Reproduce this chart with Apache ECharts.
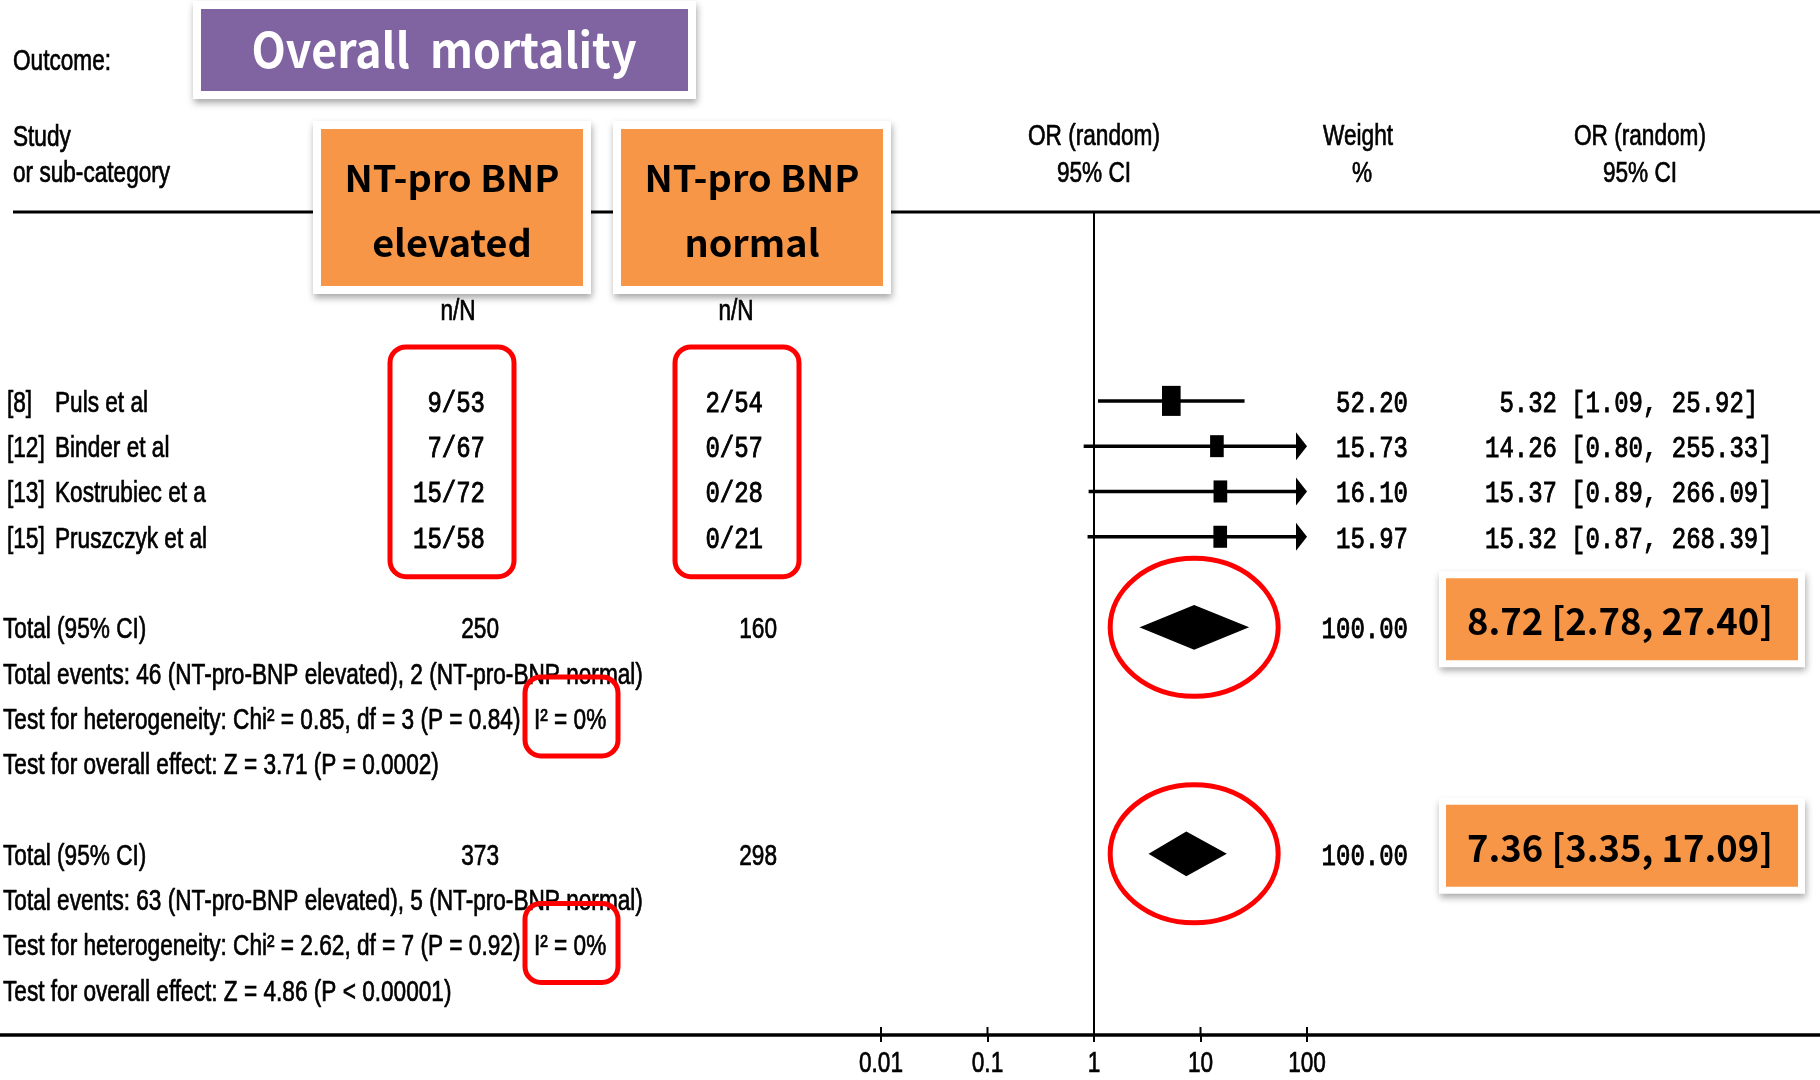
<!DOCTYPE html>
<html><head><meta charset="utf-8">
<script src="https://cdn.jsdelivr.net/npm/echarts@6/dist/echarts.min.js"></script>
<style>html,body{margin:0;padding:0;background:#fff}#chart{width:1820px;height:1080px}</style>
</head><body><div id="chart"></div>
<script>
// ---------------- data ----------------
const studyRefs = ['[8]', '[12]', '[13]', '[15]'];
const studyNames = ['Puls et al', 'Binder et al', 'Kostrubiec et a', 'Pruszczyk et al'];
const elevatedNN = ['9/53', '7/67', '15/72', '15/58'];
const normalNN = ['2/54', '0/57', '0/28', '0/21'];
const studyWeight = [52.20, 15.73, 16.10, 15.97];
const studyOR = [5.32, 14.26, 15.37, 15.32];
const studyLow = [1.09, 0.80, 0.89, 0.87];
const studyHigh = [25.92, 255.33, 266.09, 268.39];
const studyRows = [0, 1, 2, 3];

const totalRows = [5, 10];
const totalLabel = ['Total (95% CI)', 'Total (95% CI)'];
const totalElevatedN = ['250', '373'];
const totalNormalN = ['160', '298'];
const totalWeight = [100.00, 100.00];
const totalOR = [8.72, 7.36];
const totalLow = [2.78, 3.35];
const totalHigh = [27.40, 17.09];
const totalEvents = ['Total events: 46 (NT-pro-BNP elevated), 2 (NT-pro-BNP normal)',
                     'Total events: 63 (NT-pro-BNP elevated), 5 (NT-pro-BNP normal)'];
const heterogeneity = ['Test for heterogeneity: Chi\u00b2 = 0.85, df = 3 (P = 0.84)',
                       'Test for heterogeneity: Chi\u00b2 = 2.62, df = 7 (P = 0.92)'];
const iSquared = ['I\u00b2 = 0%', 'I\u00b2 = 0%'];
const overallEffect = ['Test for overall effect: Z = 3.71 (P = 0.0002)',
                       'Test for overall effect: Z = 4.86 (P < 0.00001)'];
const xTicks = [0.01, 0.1, 1, 10, 100];
const xTickLabels = ['0.01', '0.1', '1', '10', '100'];

const outcomeTitle = 'Overall  mortality';
const groupTitle = ['NT-pro BNP', 'NT-pro BNP'];
const groupSub = ['elevated', 'normal'];

// ---------------- chart ----------------
const X_MIN = 0.01, X_MAX = 100;
const chart = echarts.init(document.getElementById('chart'), null, {renderer: 'canvas'});

function renderStudy(params, api) {
  const orv = api.value(0), lo = api.value(1), hi = api.value(2), row = api.value(3), w = api.value(4);
  const y = api.coord([1, row])[1];
  const xL = api.coord([Math.max(lo, X_MIN), row])[0];
  const xR = api.coord([Math.min(hi, X_MAX), row])[0];
  const xc = api.coord([orv, row])[0];
  const h = 18.5 + 0.221 * w, wd = h * 0.62;
  const clipped = hi > X_MAX;
  const children = [
    {type: 'line', shape: {x1: xL, y1: y, x2: clipped ? xR - 6 : xR, y2: y}, style: {stroke: '#000', lineWidth: 3.5}},
    {type: 'rect', shape: {x: xc - wd / 2, y: y - h / 2, width: wd, height: h}, style: {fill: '#000'}}
  ];
  if (clipped) children.push({type: 'polygon', shape: {points: [[xR - 11, y - 14], [xR, y], [xR - 11, y + 14]]}, style: {fill: '#000'}});
  return {type: 'group', children};
}
function renderDiamond(params, api) {
  const orv = api.value(0), lo = api.value(1), hi = api.value(2), row = api.value(3);
  const y = api.coord([1, row])[1];
  const xL = api.coord([lo, row])[0], xR = api.coord([hi, row])[0], xc = api.coord([orv, row])[0];
  const h = 43;
  return {type: 'polygon', shape: {points: [[xL, y], [xc, y - h / 2], [xR, y], [xc, y + h / 2]]}, style: {fill: '#000', stroke: '#000', lineWidth: 1.5}};
}
function renderRefLine(params, api) {
  const cs = params.coordSys;
  const x = api.coord([api.value(0), 0])[0];
  return {type: 'line', shape: {x1: x, y1: cs.y, x2: x, y2: cs.y + cs.height}, style: {stroke: '#000', lineWidth: 2}};
}

chart.setOption({
  animation: false,
  grid: {left: 881, right: 513, top: 212, bottom: 45},
  xAxis: {type: 'log', logBase: 10, min: X_MIN, max: X_MAX,
    axisLine: {show: false, onZero: false},
    axisTick: {show: true, length: 7, lineStyle: {color: '#000', width: 2}},
    axisLabel: {show: false}, splitLine: {show: false}},
  yAxis: {type: 'value', inverse: true, min: -4.17, max: 14, show: false},
  series: [
    {type: 'custom', name: 'ref', renderItem: renderRefLine, data: [[1, 0]], encode: {x: 0, y: 1}, silent: true},
    {type: 'custom', name: 'studies', renderItem: renderStudy,
      data: studyOR.map((v, i) => [v, studyLow[i], studyHigh[i], studyRows[i], studyWeight[i]]),
      encode: {x: [0, 1, 2], y: 3}, silent: true},
    {type: 'custom', name: 'pooled', renderItem: renderDiamond,
      data: totalOR.map((v, i) => [v, totalLow[i], totalHigh[i], totalRows[i]]),
      encode: {x: [0, 1, 2], y: 3}, silent: true}
  ]
});

// ---------------- text & annotations ----------------
const px = v => chart.convertToPixel({xAxisIndex: 0}, v);
const py = r => chart.convertToPixel({yAxisIndex: 0}, r);
const mctx = document.createElement('canvas').getContext('2d');
const measure = (t, f) => { mctx.font = f; return mctx.measureText(t).width; };

const SANS = '29px "Liberation Sans", Arial, sans-serif', SX = 0.78;
const MONO = '30px "Liberation Mono", "Courier New", monospace', MX = 0.8;
const PPT_FAMILY = '"Noto Sans CJK KR", "Malgun Gothic", sans-serif';
const RED = '#FF0000', ORANGE = '#F79646', PURPLE = '#8064A2';
const DY = 3; // baseline nudge for table text

const els = [];
function txt(text, x, y, font, sx, align, fill, z, heavy) {
  const style = {text: text, x: 0, y: 0, font: font, fill: fill || '#000',
    align: align || 'left', verticalAlign: 'middle', textAlign: align || 'left', textVerticalAlign: 'middle'};
  if (heavy) { style.stroke = fill || '#000'; style.lineWidth = heavy; }
  els.push({type: 'text', x: x, y: y, scaleX: sx, z: z || 20, silent: true, style: style});
}
const tS = (t, x, y, align) => txt(t, x, y + DY, SANS, SX, align, '#000', 20, 0.7);
const tM = (t, x, y, align) => txt(t, x, y + DY, MONO, MX, align, '#000', 20, 0.9);
function box(x1, y1, x2, y2, fill, border) {
  els.push({type: 'rect', z: 10, silent: true, shape: {x: x1 - border, y: y1 - border, width: x2 - x1 + 2 * border, height: y2 - y1 + 2 * border},
    style: {fill: '#fff', shadowBlur: 7, shadowOffsetX: 1, shadowOffsetY: 4, shadowColor: 'rgba(0,0,0,0.35)'}});
  els.push({type: 'rect', z: 11, silent: true, shape: {x: x1, y: y1, width: x2 - x1, height: y2 - y1}, style: {fill: fill}});
}
function redRect(x1, y1, x2, y2) {
  els.push({type: 'rect', z: 30, silent: true, shape: {x: x1, y: y1, width: x2 - x1, height: y2 - y1, r: 16},
    style: {fill: 'none', stroke: RED, lineWidth: 5}});
}
function fitText(text, cx, cy, font, targetW, fill) {
  txt(text, cx, cy, font, targetW / measure(text, font), 'center', fill, 20);
}

// horizontal rules
const yTop = py(-4.17), yBottom = py(14);
els.push({type: 'line', z: 5, silent: true, shape: {x1: 13, y1: yTop, x2: 1820, y2: yTop}, style: {stroke: '#000', lineWidth: 3}});
els.push({type: 'line', z: 5, silent: true, shape: {x1: 0, y1: yBottom, x2: 1820, y2: yBottom}, style: {stroke: '#000', lineWidth: 3.5}});
xTicks.forEach(v => els.push({type: 'line', z: 5, silent: true, shape: {x1: px(v), y1: yBottom - 8, x2: px(v), y2: yBottom}, style: {stroke: '#000', lineWidth: 2}}));

// headers
tS('Outcome:', 13, 59);
tS('Study', 13, 135);
tS('or sub-category', 13, 171);
tS('OR (random)', px(1), 134, 'center');
tS('95% CI', px(1), 171, 'center');
tS('Weight', 1358, 134, 'center');
tS('%', 1362, 171, 'center');
tS('OR (random)', 1640, 134, 'center');
tS('95% CI', 1640, 171, 'center');
tS('n/N', 458, 309, 'center');
tS('n/N', 736, 309, 'center');

// title boxes
box(201, 9, 688, 91, PURPLE, 8);
fitText(outcomeTitle, 444, 50, 'bold 48px ' + PPT_FAMILY, 385, '#fff');
const gFont = 'bold 37px ' + PPT_FAMILY;
const gScale = 215 / measure(groupTitle[0], gFont);
[[321, 583], [621, 883]].forEach((b, i) => {
  box(b[0], 129, b[1], 286, ORANGE, 8);
  const cx = (b[0] + b[1]) / 2;
  txt(groupTitle[i], cx, 178, gFont, gScale, 'center', '#000');
  txt(groupSub[i], cx, 243, gFont, gScale, 'center', '#000');
});

// study rows
studyRows.forEach((r, i) => {
  const y = py(r);
  tS(studyRefs[i], 7, y);
  tS(studyNames[i], 55, y);
  tM(elevatedNN[i], 485, y, 'right');
  tM(normalNN[i], 763, y, 'right');
  tM(studyWeight[i].toFixed(2), 1408, y, 'right');
  tM(studyOR[i].toFixed(2), 1557, y, 'right');
  tM('[' + studyLow[i].toFixed(2) + ', ' + studyHigh[i].toFixed(2) + ']', 1571, y, 'left');
});
redRect(390, py(0) - 54, 514, py(3) + 40);
redRect(675, py(0) - 54, 799, py(3) + 40);

// totals
totalRows.forEach((r, k) => {
  const y = py(r);
  tS(totalLabel[k], 3, y);
  tS(totalElevatedN[k], 499, y, 'right');
  tS(totalNormalN[k], 777, y, 'right');
  tM(totalWeight[k].toFixed(2), 1408, y, 'right');
  tS(totalEvents[k], 3, py(r + 1));
  tS(heterogeneity[k], 3, py(r + 2));
  tS(iSquared[k], 534, py(r + 2));
  tS(overallEffect[k], 3, py(r + 3));
  redRect(525, py(r + 2) - 41, 618, py(r + 2) + 38);
  // highlighted pooled estimate
  box(1446, y - 49, 1798, y + 33, ORANGE, 7);
  fitText(totalOR[k].toFixed(2) + ' [' + totalLow[k].toFixed(2) + ', ' + totalHigh[k].toFixed(2) + ']',
    1620, y - 6, 'bold 37px ' + PPT_FAMILY, 306, '#000');
  els.push({type: 'ellipse', z: 30, silent: true, shape: {cx: px(totalOR[0]), cy: y, rx: 84, ry: 69},
    style: {fill: 'none', stroke: RED, lineWidth: 5}});
});

// axis tick labels
xTicks.forEach((v, i) => tS(xTickLabels[i], px(v), 1061, 'center'));

chart.setOption({graphic: {elements: els}});
</script></body></html>
